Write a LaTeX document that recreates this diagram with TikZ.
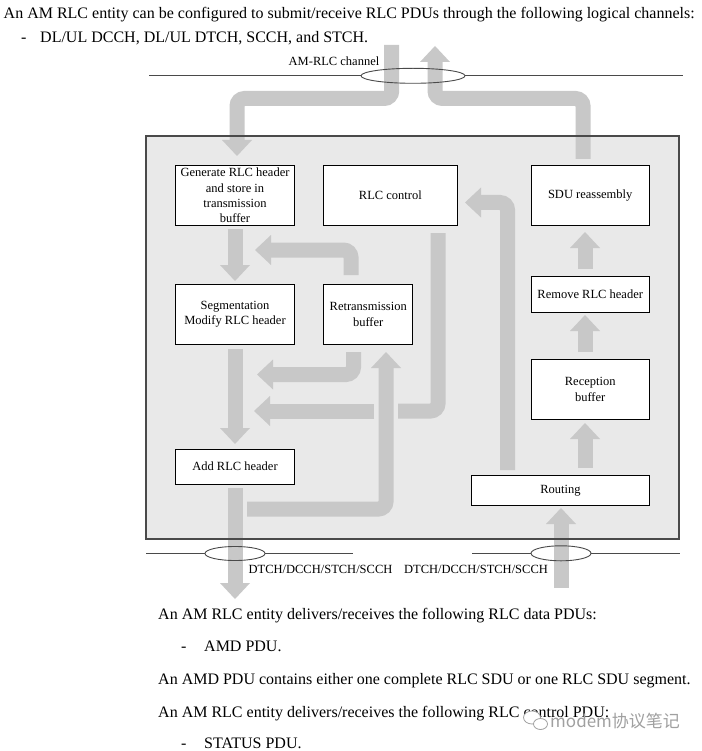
\documentclass[tikz,border=0pt]{standalone}
\usepackage{fontspec}
\setmainfont{Liberation Serif}
\newfontfamily\cjkfont{Noto Sans CJK SC}
\usetikzlibrary{calc,shapes.geometric}
\definecolor{arrowgray}{HTML}{C8C8C8}
\definecolor{panelgray}{HTML}{E9E9E9}
\definecolor{linegray}{HTML}{4A4A4A}
\definecolor{wmgray}{HTML}{A0A0A0}
\newcommand\bodyfont{\fontsize{16}{19}\selectfont}
\newcommand\boxfont{\fontsize{12.5}{15.3}\selectfont}
\newcommand\tipdown[1]{\fill[arrowgray] (#1) -- ++(15,-16) -- ++(-30,0) -- cycle;}
\newcommand\tipup[1]{\fill[arrowgray] (#1) -- ++(15,16) -- ++(-30,0) -- cycle;}
\newcommand\tipleft[1]{\fill[arrowgray] (#1) -- ++(16,-15) -- ++(0,30) -- cycle;}
\begin{document}
\begin{tikzpicture}[x=1pt,y=-1pt,
  box/.style={draw=black, line width=0.8pt, fill=white, inner sep=0pt, align=center, font=\boxfont},
  shaft/.style={draw=arrowgray, line width=15pt, rounded corners=7.5pt, line cap=butt, line join=miter},
  chan/.style={draw=linegray, line width=1pt},
  chanring/.style={draw=linegray, line width=0.9pt, ellipse, inner sep=0pt},
  lbl/.style={inner sep=0pt, font=\boxfont},
  body/.style={inner sep=0pt, anchor=base west, font=\bodyfont}]
\useasboundingbox[fill=white] (0,0) rectangle (701,751);

% panel
\fill[panelgray] (146,136) rectangle (679,539);

% named end points of the fat arrows
\coordinate (a0) at (391.7,45);   \coordinate (a1) at (237,141);  \coordinate (aT) at (237,156);
\coordinate (b0) at (583,159);    \coordinate (b1) at (435,61);   \coordinate (bT) at (435,46);
\coordinate (c0) at (235,229);    \coordinate (c1) at (235,266);  \coordinate (cT) at (235,281);
\coordinate (d0) at (351,275);    \coordinate (d1) at (270,250);  \coordinate (dT) at (255,250);
\coordinate (e0) at (235,349);    \coordinate (e1) at (235,429);  \coordinate (eT) at (235,444);
\coordinate (f0) at (353.5,352);  \coordinate (f1) at (272,374.5);\coordinate (fT) at (257,374.5);
\coordinate (g0) at (438,233);    \coordinate (g1) at (398,411);
\coordinate (g2) at (374,411);    \coordinate (g3) at (269,411);  \coordinate (gT) at (254,411);
\coordinate (h0) at (247,509);    \coordinate (h1) at (386,367);  \coordinate (hT) at (386,352);
\coordinate (i0) at (235,488);    \coordinate (i1) at (235,584);  \coordinate (iT) at (235,599);
\coordinate (j0) at (561,588);    \coordinate (j1) at (561,523);  \coordinate (jT) at (561,508);
\coordinate (k0) at (585,468);    \coordinate (k1) at (585,438);  \coordinate (kT) at (585,423);
\coordinate (l0) at (585,352);    \coordinate (l1) at (585,330);  \coordinate (lT) at (585,315);
\coordinate (m0) at (585,269);    \coordinate (m1) at (585,247);  \coordinate (mT) at (585,232);
\coordinate (n0) at (507.5,470);  \coordinate (n1) at (480,202.5);\coordinate (nT) at (465,202.5);

% fat arrows
\draw[shaft] (a0) -- (391.7,98.5) -- (237,98.5) -- (a1);  \tipdown{aT}
\draw[shaft] (b0) -- (583,98.5) -- (435,98.5) -- (b1);    \tipup{bT}
\draw[shaft] (c0) -- (c1);                                 \tipdown{cT}
\draw[shaft] (d0) -- (351,250) -- (d1);                    \tipleft{dT}
\draw[shaft] (e0) -- (e1);                                 \tipdown{eT}
\draw[shaft] (f0) -- (353.5,374.5) -- (f1);                \tipleft{fT}
\draw[shaft] (g0) -- (438,411) -- (g1);
\draw[shaft] (g2) -- (g3);                                 \tipleft{gT}
\draw[shaft] (h0) -- (386,509) -- (h1);                    \tipup{hT}
\draw[shaft] (i0) -- (i1);                                 \tipdown{iT}
\draw[shaft] (j0) -- (j1);                                 \tipup{jT}
\draw[shaft] (k0) -- (k1);                                 \tipup{kT}
\draw[shaft] (l0) -- (l1);                                 \tipup{lT}
\draw[shaft] (m0) -- (m1);                                 \tipup{mT}
\draw[shaft] (n0) -- (507.5,202.5) -- (n1);                \tipleft{nT}

% panel border
\draw[linegray, line width=1.1pt] (146,136) rectangle (679,539);

% boxes
\node[box, minimum width=118.6pt, minimum height=59.3pt] (gen)  at (235,195.4) {Generate RLC header\\and store in\\transmission\\buffer};
\node[box, minimum width=133.3pt, minimum height=59.3pt] (ctrl) at (390.4,195.4) {RLC control};
\node[box, minimum width=118.3pt, minimum height=59.3pt] (sdu)  at (590.2,195.4) {SDU reassembly};
\node[box, minimum width=118.6pt, minimum height=59.3pt] (seg)  at (235,314.4) {Segmentation\\Modify RLC header};
\node[box, minimum width=89pt,    minimum height=59.3pt] (retx) at (368.2,314.4) {Retransmission\\buffer};
\node[box, minimum width=118.3pt, minimum height=35.6pt] (rem)  at (590.2,294.5) {Remove RLC header};
\node[box, minimum width=118.3pt, minimum height=60pt]   (rcv)  at (590.2,389.3) {Reception\\buffer};
\node[box, minimum width=118.6pt, minimum height=35.3pt] (add)  at (235,466.7) {Add RLC header};
\node[box, minimum width=177.6pt, minimum height=30pt]   (rout) at (560.5,490.7) {Routing};

% channel lines with ellipses
\draw[chan] (149,75.5) -- (361,75.5);
\draw[chan] (465,75.5) -- (683,75.5);
\node[chanring, minimum width=104pt, minimum height=15pt] (topch) at (413,75.8) {};
\draw[chan] (146,553) -- (205,553);
\draw[chan] (265,553) -- (353,553);
\node[chanring, minimum width=60pt, minimum height=14pt] (blch) at (235,553.5) {};
\draw[chan] (472,553) -- (531,553);
\draw[chan] (591,553) -- (680,553);
\node[chanring, minimum width=60pt, minimum height=15pt] (brch) at (561,553.3) {};

% channel labels
\node[lbl] (amrlc) at (334,61) {AM-RLC channel};
\node[lbl] (dl1) at (320.5,569.5) {DTCH/DCCH/STCH/SCCH};
\node[lbl] (dl2) at (476,569.5) {DTCH/DCCH/STCH/SCCH};

% body text
\node[body] (t1) at (3.5,19) {An AM RLC entity can be configured to submit/receive RLC PDUs through the following logical channels:};
\node[body] (t2d) at (21,43) {-};
\node[body] (t2) at (40,43) {DL/UL DCCH, DL/UL DTCH, SCCH, and STCH.};
\node[body] (b1) at (158,619.5) {An AM RLC entity delivers/receives the following RLC data PDUs:};
\node[body] (b2d) at (181,651.5) {-};
\node[body] (b2) at (204,651.5) {AMD PDU.};
\node[body] (b3) at (158,684.5) {An AMD PDU contains either one complete RLC SDU or one RLC SDU segment.};
\node[body] (b4) at (158,717) {An AM RLC entity delivers/receives the following RLC control PDU:};
\node[body] (b5d) at (181,748.5) {-};
\node[body] (b5) at (204,748.5) {STATUS PDU.};

% watermark
\fill[white, draw=wmgray, line width=0.8pt] (532,717.5) ellipse (8.5 and 6.5);
\fill[white, draw=wmgray, line width=0.8pt] (540.5,724) ellipse (7 and 5.5);
\node[inner sep=0pt, anchor=west, text=wmgray, font=\fontsize{17}{20}\cjkfont] (wm) at (550,721.5) {modem协议笔记};
\end{tikzpicture}
\end{document}
